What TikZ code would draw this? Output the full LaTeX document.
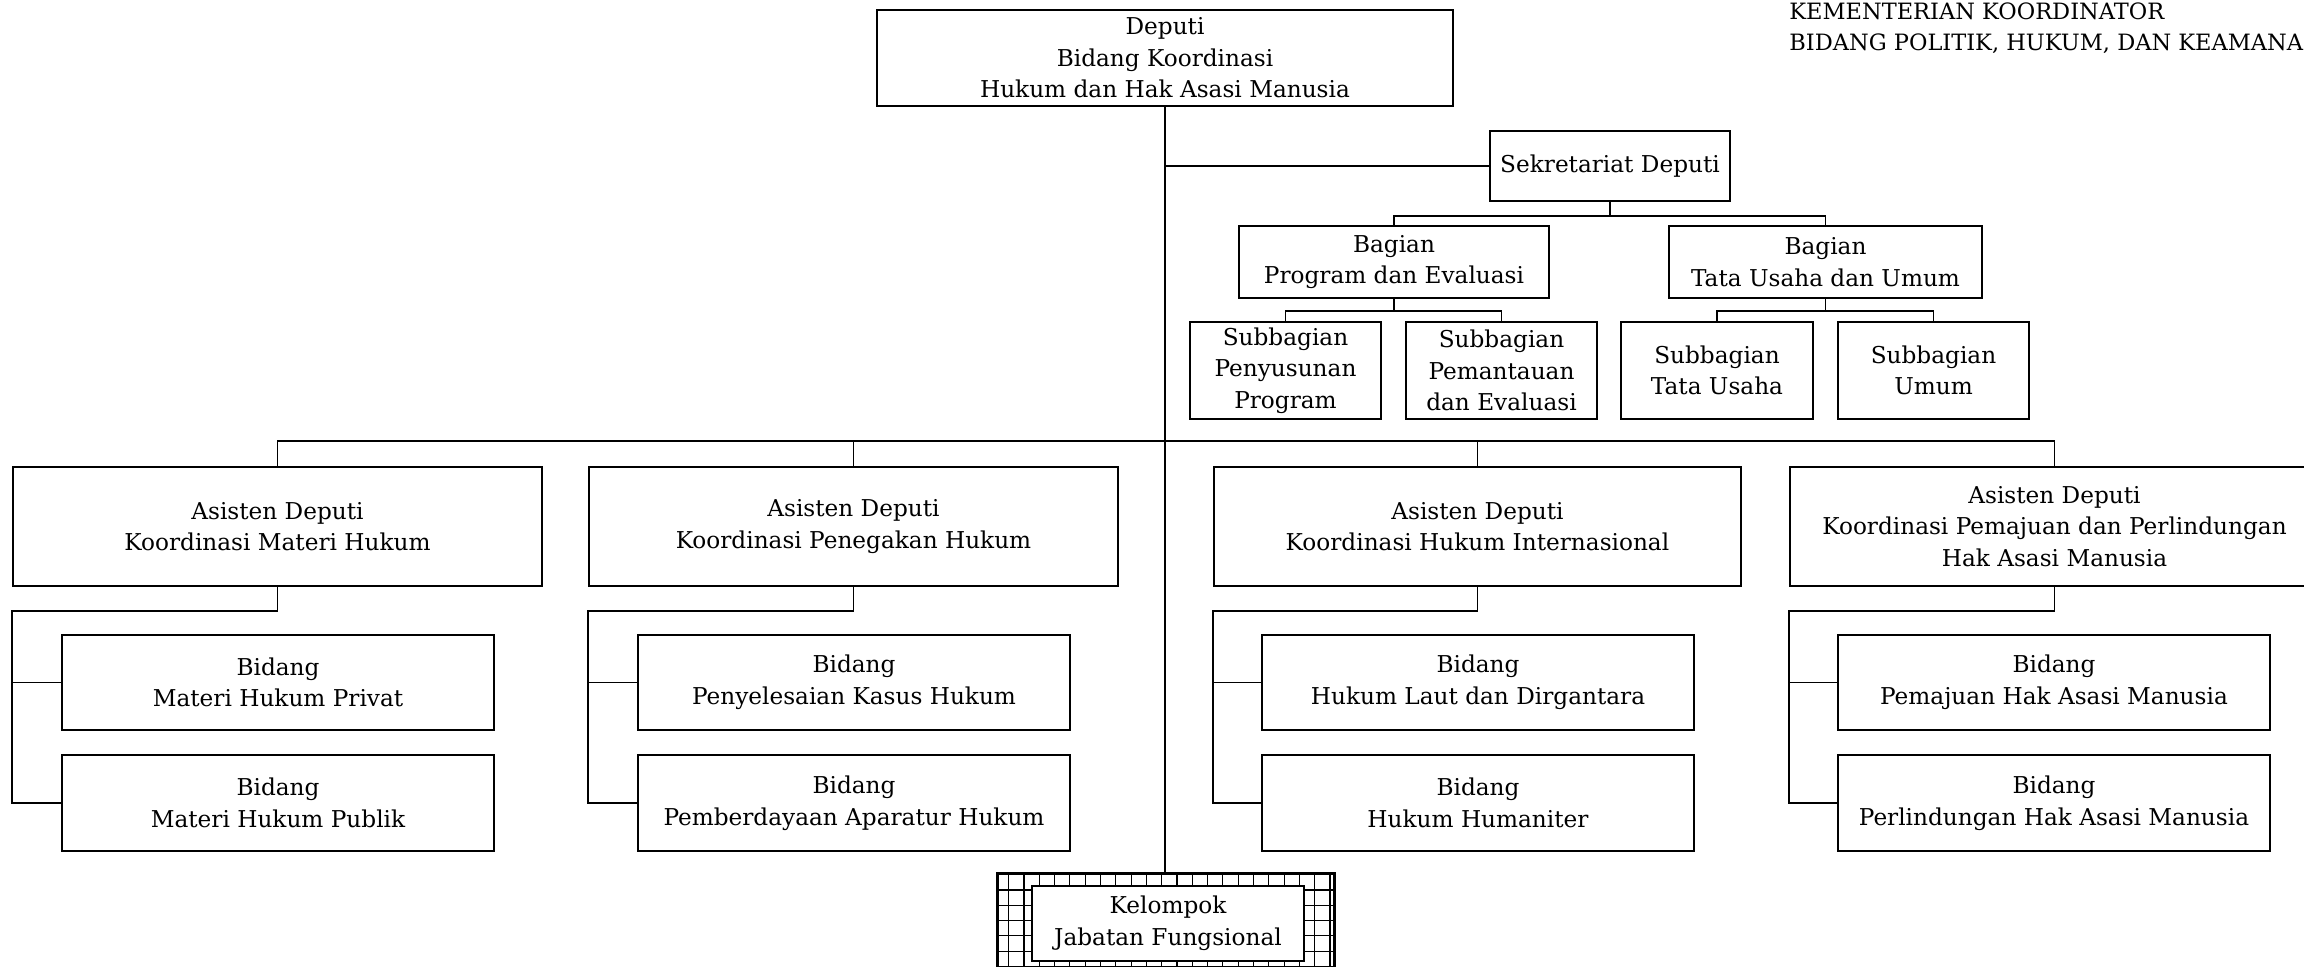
\documentclass[tikz,border=0pt]{standalone}
\usepackage{fontspec}
\setmainfont{DejaVu Serif}
\usetikzlibrary{calc}

\tikzset{
	unit/.style={draw, line width=0.9pt, align=center, inner sep=0pt, fill=white},
	link/.style={line width=0.9pt},
	gridline/.style={line width=0.55pt},
}

\newcommand{\unitbox}[6] % name, left, top, right, bottom (px), text
{
	\node[unit, minimum width={(#4-#2)*0.5pt}, minimum height={(#5-#3)*0.5pt}] (#1) at ({(#2+#4)/2},{(#3+#5)/2}) {#6};
}

\begin{document}
\begin{tikzpicture}[x=0.5pt, y=-0.5pt, font=\fontsize{11.6}{15.8}\selectfont]
	% page 2304 x 967 px, y runs downwards
	\useasboundingbox (0,0) rectangle (2304,967);
	\clip (0,0) rectangle (2304,967);

	% heading
	\node[anchor=north west, inner sep=0pt, align=left, font=\fontsize{11.25}{15.6}\selectfont] (kop) at (1789,2) {KEMENTERIAN KOORDINATOR\\BIDANG POLITIK, HUKUM, DAN KEAMANAN};

	% deputi and secretariat
	\unitbox{dep}{877}{10}{1453}{106}{Deputi\\Bidang Koordinasi\\Hukum dan Hak Asasi Manusia}
	\unitbox{sek}{1490}{131}{1730}{201}{Sekretariat Deputi}
	\unitbox{bpe}{1239}{226}{1549}{298}{Bagian\\Program dan Evaluasi}
	\unitbox{btu}{1669}{226}{1982}{298}{Bagian\\Tata Usaha dan Umum}
	\unitbox{sp1}{1190}{322}{1381}{419}{Subbagian\\Penyusunan\\Program}
	\unitbox{sp2}{1406}{322}{1597}{419}{Subbagian\\Pemantauan\\dan Evaluasi}
	\unitbox{st1}{1621}{322}{1813}{419}{Subbagian\\Tata Usaha}
	\unitbox{st2}{1838}{322}{2029}{419}{Subbagian\\Umum}

	% asisten deputi
	\unitbox{a1}{13}{467}{542}{586}{Asisten Deputi\\Koordinasi Materi Hukum}
	\unitbox{a2}{589}{467}{1118}{586}{Asisten Deputi\\Koordinasi Penegakan Hukum}
	\unitbox{a3}{1214}{467}{1741}{586}{Asisten Deputi\\Koordinasi Hukum Internasional}
	\unitbox{a4}{1790}{467}{2319}{586}{Asisten Deputi\\Koordinasi Pemajuan dan Perlindungan\\Hak Asasi Manusia}

	% bidang
	\unitbox{b1a}{62}{635}{494}{730}{Bidang\\Materi Hukum Privat}
	\unitbox{b1b}{62}{755}{494}{851}{Bidang\\Materi Hukum Publik}
	\unitbox{b2a}{638}{635}{1070}{730}{Bidang\\Penyelesaian Kasus Hukum}
	\unitbox{b2b}{638}{755}{1070}{851}{Bidang\\Pemberdayaan Aparatur Hukum}
	\unitbox{b3a}{1262}{635}{1694}{730}{Bidang\\Hukum Laut dan Dirgantara}
	\unitbox{b3b}{1262}{755}{1694}{851}{Bidang\\Hukum Humaniter}
	\unitbox{b4a}{1838}{635}{2270}{730}{Bidang\\Pemajuan Hak Asasi Manusia}
	\unitbox{b4b}{1838}{755}{2270}{851}{Bidang\\Perlindungan Hak Asasi Manusia}

	% kelompok jabatan fungsional, hatched frame
	\node[draw, line width=1pt, minimum width={336*0.5pt}, minimum height={116*0.5pt}, inner sep=0pt] (kjfo) at (1166,932) {};
	\begin{scope}
		\clip (kjfo.south west) rectangle (kjfo.north east);
		\foreach \gx in {0,...,21}
			\draw[gridline] ({1008.7+15.3*\gx},870) -- ({1008.7+15.3*\gx},1000);
		\foreach \gy in {0,...,7}
			\draw[gridline] (990,{890+15.3*\gy}) -- (1340,{890+15.3*\gy});
	\end{scope}
	\draw[line width=1pt] (kjfo.south west) rectangle (kjfo.north east);
	\unitbox{kjf}{1032}{886}{1304}{961}{Kelompok\\Jabatan Fungsional}

	% trunk and secretariat branch
	\draw[link] (dep.south) -- (dep.south |- kjfo.north);
	\draw[link] (dep.south |- sek.west) -- (sek.west);
	\draw[link] (sek.south) -- ++(0,14) -| (bpe.north);
	\draw[link] (sek.south) -- ++(0,14) -| (btu.north);
	\draw[link] (bpe.south) -- ++(0,12) -| (sp1.north);
	\draw[link] (bpe.south) -- ++(0,12) -| (sp2.north);
	\draw[link] (btu.south) -- ++(0,12) -| (st1.north);
	\draw[link] (btu.south) -- ++(0,12) -| (st2.north);

	% bus to asisten deputi
	\draw[link] (a1.north) -- ++(0,-25) -| (a4.north);
	\draw[link] (a2.north) -- ++(0,-25);
	\draw[link] (a3.north) -- ++(0,-25);

	% asisten deputi to bidang
	\draw[link] (a1.south) -- ++(0,24) -| (a1.west |- b1b.west) -- (b1b.west);
	\draw[link] (a1.west |- b1a.west) -- (b1a.west);
	\draw[link] (a2.south) -- ++(0,24) -| (a2.west |- b2b.west) -- (b2b.west);
	\draw[link] (a2.west |- b2a.west) -- (b2a.west);
	\draw[link] (a3.south) -- ++(0,24) -| (a3.west |- b3b.west) -- (b3b.west);
	\draw[link] (a3.west |- b3a.west) -- (b3a.west);
	\draw[link] (a4.south) -- ++(0,24) -| (a4.west |- b4b.west) -- (b4b.west);
	\draw[link] (a4.west |- b4a.west) -- (b4a.west);
\end{tikzpicture}
\end{document}
